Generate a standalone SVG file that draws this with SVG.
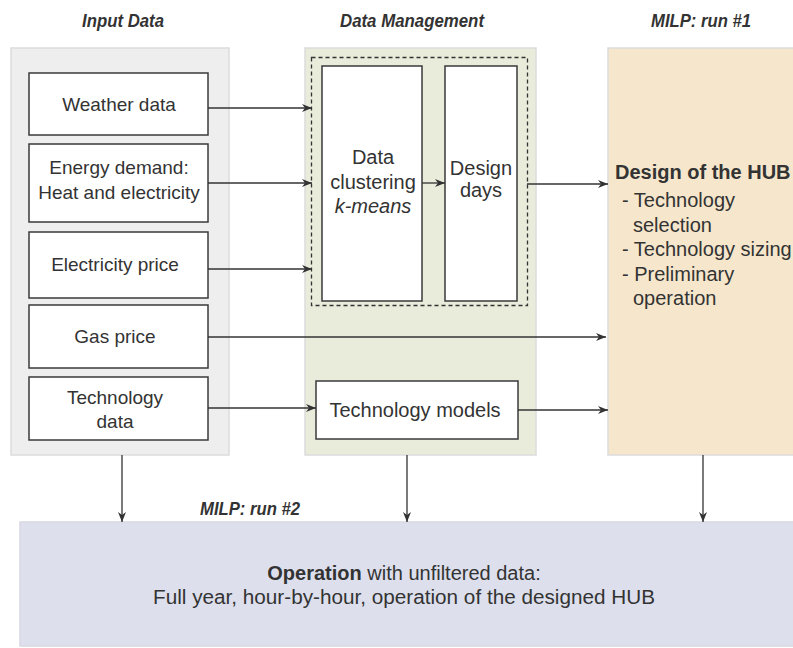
<svg xmlns="http://www.w3.org/2000/svg" width="793" height="648" viewBox="0 0 793 648">
<style>
.t{font-family:"Liberation Sans",Arial,sans-serif;font-size:19px;fill:#333;text-anchor:middle}
.m{font-family:"Liberation Sans",Arial,sans-serif;font-size:20px;fill:#333;text-anchor:middle}
.l{font-family:"Liberation Sans",Arial,sans-serif;font-size:20px;fill:#333}
.h{font-family:"Liberation Sans Narrow","Liberation Sans",Arial,sans-serif;font-size:18px;font-weight:bold;font-style:italic;fill:#333;text-anchor:middle}
.box{fill:#fff;stroke:#3a3a3a;stroke-width:1.5}
.c{fill:none;stroke:#333;stroke-width:1.3}
</style>
<defs>
<marker id="a" viewBox="0 0 10 8" refX="10" refY="4" markerWidth="10" markerHeight="8" markerUnits="userSpaceOnUse" orient="auto">
<path d="M0,0 L10,4 L0,8 L3,4 z" fill="#333"/>
</marker>
</defs>
<g id="titles">
<text class="h" x="123" y="27" textLength="82" lengthAdjust="spacingAndGlyphs">Input Data</text>
<text class="h" x="412" y="27" textLength="144" lengthAdjust="spacingAndGlyphs">Data Management</text>
<text class="h" x="701" y="27" textLength="100" lengthAdjust="spacingAndGlyphs">MILP: run #1</text>
<text class="h" x="250" y="515" textLength="100" lengthAdjust="spacingAndGlyphs">MILP: run #2</text>
</g>
<g id="panel-input"><rect x="11" y="48" width="218" height="407" fill="#eeeeee" stroke="#dcdcdc" stroke-width="1.5"/></g>
<g id="panel-dm"><rect x="305" y="48" width="231" height="407" fill="#e9ebdb" stroke="#dcdcdc" stroke-width="1.5"/></g>
<g id="panel-milp1"><rect x="608" y="48" width="200" height="407" fill="#f5e6cc" stroke="#dcdcdc" stroke-width="1.5"/>
<text class="l" x="615" y="179" font-weight="bold">Design of the HUB</text>
<text class="l" x="622" y="207">- Technology</text>
<text class="l" x="633" y="232">selection</text>
<text class="l" x="622" y="256">- Technology sizing</text>
<text class="l" x="622" y="281">- Preliminary</text>
<text class="l" x="633" y="305">operation</text>
</g>
<g id="panel-milp2"><rect x="20" y="522" width="790" height="124" fill="#dde0ec" stroke="#d6d8e2" stroke-width="1.5"/>
<text class="m" x="404" y="580" font-size="20.5"><tspan font-weight="bold">Operation</tspan> with unfiltered data:</text>
<text class="m" x="404" y="604" font-size="20.5" textLength="502" lengthAdjust="spacingAndGlyphs">Full year, hour-by-hour, operation of the designed HUB</text>
</g>
<g id="weather"><rect class="box" x="29" y="73" width="179" height="62"/><text class="t" x="119" y="111">Weather data</text></g>
<g id="energy"><rect class="box" x="29" y="144" width="179" height="78"/><text class="t" x="119" y="174">Energy demand:</text><text class="t" x="119" y="199">Heat and electricity</text></g>
<g id="elec"><rect class="box" x="29" y="232" width="179" height="66"/><text class="t" x="115" y="271">Electricity price</text></g>
<g id="gas"><rect class="box" x="29" y="305" width="179" height="63"/><text class="t" x="115" y="343">Gas price</text></g>
<g id="techdata"><rect class="box" x="29" y="377" width="179" height="63"/><text class="t" x="115" y="404">Technology</text><text class="t" x="115" y="428">data</text></g>
<g id="cluster-group"><rect x="311.5" y="57.5" width="216" height="248" fill="none" stroke="#333" stroke-width="1.3" stroke-dasharray="4 3"/></g>
<g id="clustering"><rect class="box" x="322" y="66" width="100" height="235"/><text class="m" x="373" y="164">Data</text><text class="m" x="373" y="189">clustering</text><text class="m" x="373" y="213" font-style="italic">k-means</text></g>
<g id="designdays"><rect class="box" x="445" y="66" width="72" height="235"/><text class="m" x="481" y="175">Design</text><text class="m" x="481" y="197">days</text></g>
<g id="techmodels"><rect class="box" x="316" y="381" width="202" height="58"/><text class="m" x="415" y="417">Technology models</text></g>
<g id="connectors">
<path class="c" d="M208,108 H312" marker-end="url(#a)"/>
<path class="c" d="M208,183 H312" marker-end="url(#a)"/>
<path class="c" d="M208,269 H312" marker-end="url(#a)"/>
<path class="c" d="M208,337 H606" marker-end="url(#a)"/>
<path class="c" d="M208,408 H316" marker-end="url(#a)"/>
<path class="c" d="M518,410 H608" marker-end="url(#a)"/>
<path class="c" d="M422,183 H445" marker-end="url(#a)"/>
<path class="c" d="M527,184 H608" marker-end="url(#a)"/>
<path class="c" d="M122,455 V522" marker-end="url(#a)"/>
<path class="c" d="M407,455 V522" marker-end="url(#a)"/>
<path class="c" d="M703,455 V522" marker-end="url(#a)"/>
</g>
</svg>
